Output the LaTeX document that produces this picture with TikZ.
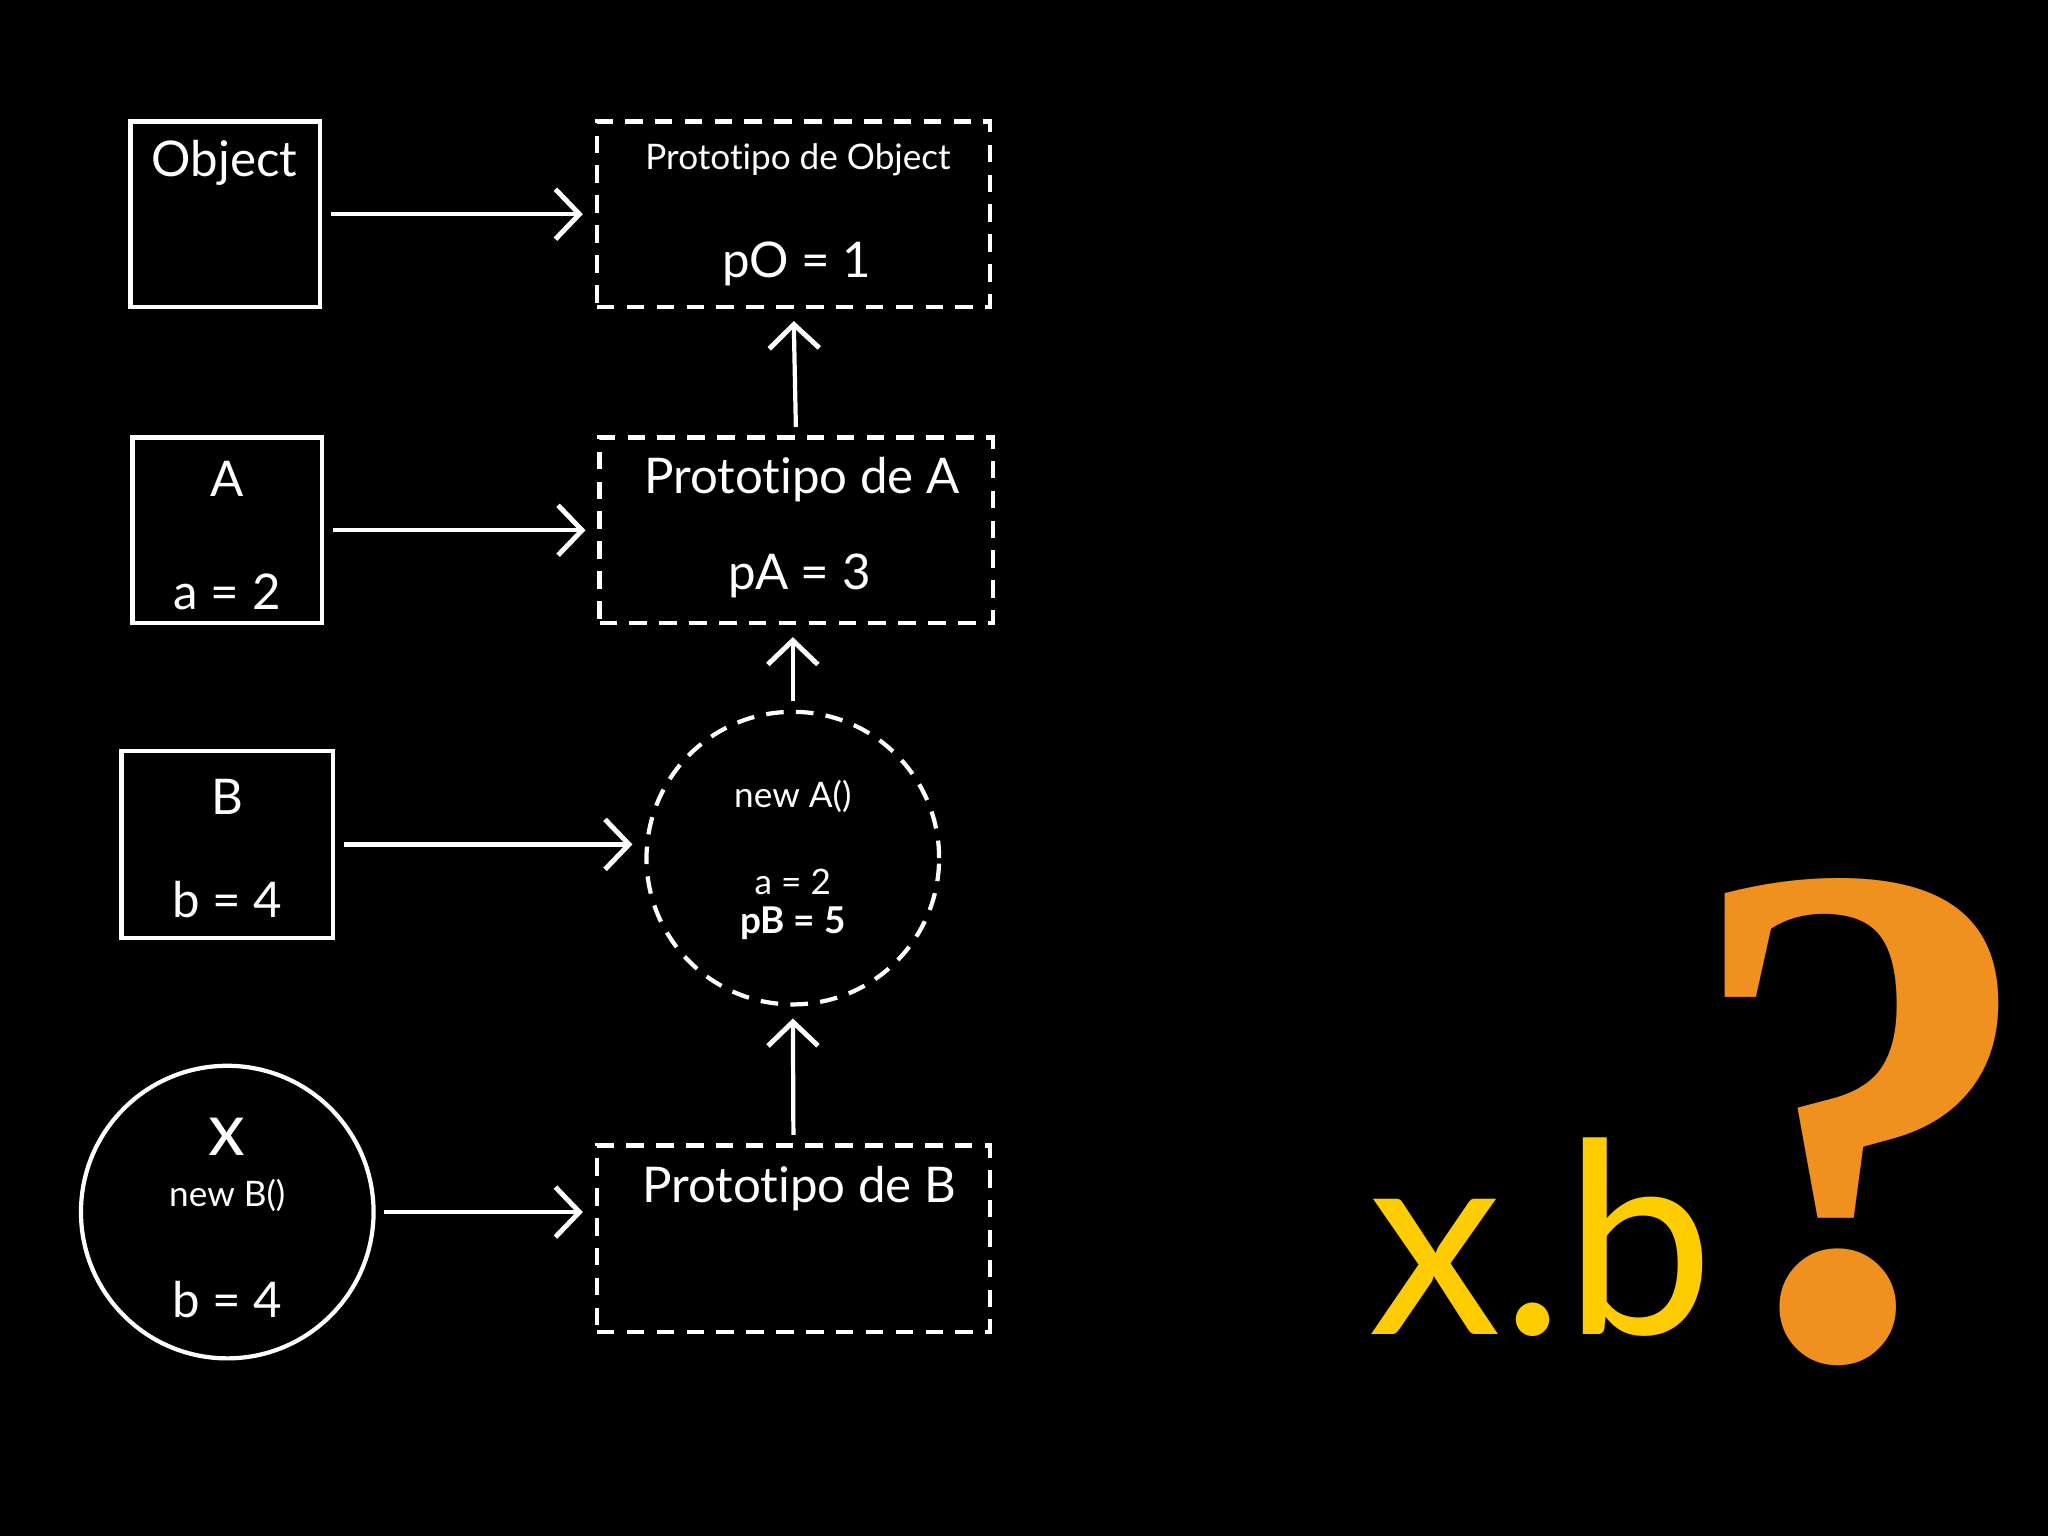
\documentclass[tikz,border=0pt]{standalone}
\usepackage{fontspec}
\setmainfont[Ligatures=NoCommon]{Lato}
\newfontfamily\qfont{Liberation Serif}
\usetikzlibrary{arrows.meta}
\definecolor{qyellow}{HTML}{FFCC00}
\definecolor{qorange}{HTML}{F0901E}
\begin{document}
\begin{tikzpicture}[x=0.013061cm,y=-0.013061cm,
  every node/.style={text=white,inner sep=0pt,outer sep=0pt},
  ln/.style={draw=white,line width=1.2pt},
  dsh/.style={ln,dash pattern=on 5pt off 3.5pt},
  sbox/.style={ln,minimum width=1.894cm,minimum height=1.855cm},
  pbox/.style={dsh,minimum width=3.931cm,minimum height=1.855cm},
  circ/.style={circle,minimum size=2.926cm},
  arr/.style={ln,shorten <=3pt,shorten >=4pt,-{Straight Barb[length=2.4mm,width=5mm,line width=1.4pt]}},
  big/.style={font=\fontsize{14}{17}\selectfont},
  sml/.style={font=\fontsize{10}{12}\selectfont}]
\fill[black] (0,0) rectangle (1568,1176);
\useasboundingbox (0,0) rectangle (1568,1176);
% boxes
\node[sbox] (obj) at (172.5,164) {};
\node[pbox] (pobj) at (607.5,164) {};
\node[sbox] (a) at (174,406) {};
\node[pbox] (pa) at (609.5,406) {};
\node[sbox,minimum width=2.116cm,minimum height=1.868cm] (b) at (174,646.5) {};
\node[dsh,circ] (na) at (607,657) {};
\node[ln,circ] (x) at (174,928) {};
\node[pbox,minimum height=1.868cm] (pb) at (607.5,948.5) {};
% texts
\node[big] (t1) at (172,125) {Object};
\node[sml] (t2) at (611,122) {Prototipo de Object};
\node[big] (t3) at (610,202) {pO = 1};
\node[big] (t4) at (174,367) {A};
\node[big] (t5) at (174,453) {a = 2};
\node[big] (t6) at (614,367) {Prototipo de A};
\node[big] (t7) at (612,441) {pA = 3};
\node[big] (t8) at (174,610) {B};
\node[big] (t9) at (174,689) {b = 4};
\node[sml] (t10) at (607,610) {new A()};
\node[sml] (t11) at (607,675) {a = 2};
\node[font=\fontsize{10.5}{12}\selectfont\bfseries] (t12) at (607,707) {pB = 5};
\node[font=\fontsize{21}{24}\selectfont] (t13) at (174,870) {x};
\node[sml] (t14) at (174,915) {new B()};
\node[big] (t15) at (174,995) {b = 4};
\node[big] (t16) at (612,910) {Prototipo de B};
\node[text=qyellow,font=\fontsize{76}{80}\selectfont,anchor=base] (xb) at (1180,1022) {x.b};
\node[text=qorange,font=\fontsize{205}{210}\selectfont\qfont\bfseries,anchor=base] (q) at (1425,1038) {?};
% arrows
\draw[arr] (obj.east) -- (pobj.west);
\draw[arr] (a.east) -- (pa.west);
\draw[arr] (b.east) -- (b.east -| na.west);
\draw[arr] (x.east) -- (x.east -| pb.west);
\draw[arr] (pa.north) -- (pobj.south);
\draw[arr] (na.north) -- (pa.south -| na.north);
\draw[arr] (pb.north) -- (na.south);
\end{tikzpicture}
\end{document}
